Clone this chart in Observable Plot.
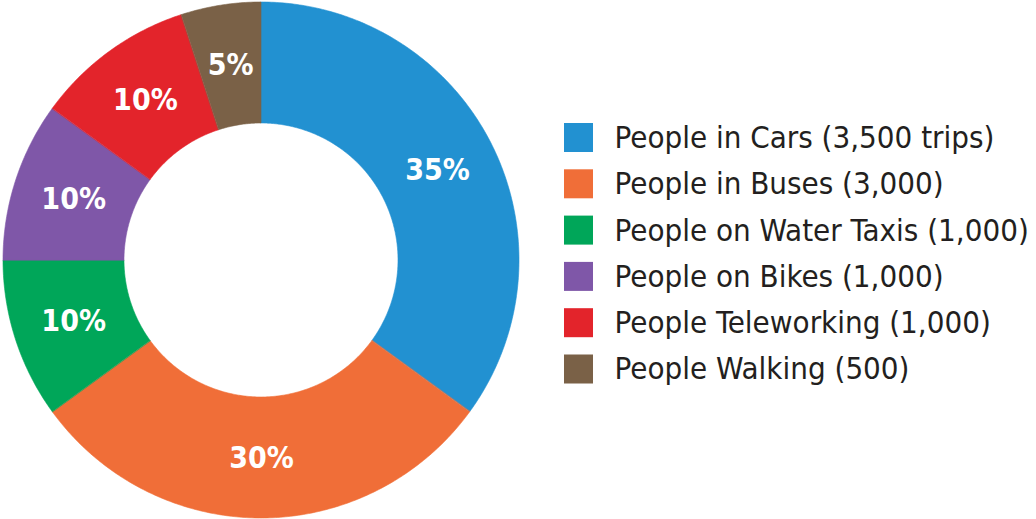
<!DOCTYPE html>
<html>
<head>
<meta charset="utf-8">
<script src="https://cdn.jsdelivr.net/npm/d3@7"></script>
<script src="https://cdn.jsdelivr.net/npm/@observablehq/plot@0.6"></script>
<style>
  html, body { margin: 0; padding: 0; background: #fff; }
  #chart svg { display: block; }
</style>
</head>
<body>
<div id="chart"></div>
<script>
// ---- Data ----
const categories = ["Cars", "Buses", "Water Taxis", "Bikes", "Teleworking", "Walking"];
const trips = [3500, 3000, 1000, 1000, 1000, 500];
const legendLabels = [
  "People in Cars (3,500 trips)",
  "People in Buses (3,000)",
  "People on Water Taxis (1,000)",
  "People on Bikes (1,000)",
  "People Teleworking (1,000)",
  "People Walking (500)"
];
const colors = ["#2291d1", "#f06e38", "#00a659", "#7f57a8", "#e3242b", "#7a6147"];

// ---- Layout ----
const W = 1036, H = 519;
const cx = 261, cy = 260, R = 258, r0 = 137;
const font = "'DejaVu Sans Condensed', 'DejaVu Sans', sans-serif";

const total = d3.sum(trips);
const rows = categories.map((c, i) => ({cat: c, value: trips[i], label: legendLabels[i], i}));
const arcs = d3.pie().sort(null).value(d => d.value)(rows);

// ring polygons: outer edge (x1,y1) / inner edge (x2,y2)
const ring = [];
for (const a of arcs) {
  const n = Math.max(8, Math.ceil((a.endAngle - a.startAngle) / 0.01));
  for (let k = 0; k <= n; k++) {
    const t = a.startAngle + (a.endAngle - a.startAngle) * k / n;
    ring.push({
      cat: a.data.cat,
      x1: cx + R * Math.sin(t), y1: cy - R * Math.cos(t),
      x2: cx + r0 * Math.sin(t), y2: cy - r0 * Math.cos(t)
    });
  }
}
const rm = (R + r0) / 2;
const labels = arcs.map(a => {
  const t = (a.startAngle + a.endAngle) / 2;
  return {cat: a.data.cat, text: d3.format(".0%")(a.data.value / total),
          x: cx + rm * Math.sin(t), y: cy - rm * Math.cos(t)};
});

// legend
const lx = 564, ly0 = 137.5, lstep = 46.3, sw = 29;
const legend = rows.map(d => ({cat: d.cat, label: d.label,
  x1: lx, x2: lx + sw, y1: ly0 + d.i * lstep - sw / 2, y2: ly0 + d.i * lstep + sw / 2,
  tx: lx + 50, ty: ly0 + d.i * lstep}));

const chart = Plot.plot({
  width: W, height: H,
  margin: 0,
  x: {domain: [0, W], range: [0, W], axis: null},
  y: {domain: [0, H], range: [0, H], axis: null},
  color: {domain: categories, range: colors},
  style: {fontFamily: font, background: "#fff"},
  marks: [
    Plot.area(ring, {x1: "x1", y1: "y1", x2: "x2", y2: "y2", z: "cat", fill: "cat", stroke: "cat", strokeWidth: 0.6}),
    Plot.text(labels, {x: "x", y: "y", text: "text", fill: "white", fontSize: 30, fontWeight: "bold"}),
    Plot.rect(legend, {x1: "x1", x2: "x2", y1: "y1", y2: "y2", fill: "cat"}),
    Plot.text(legend, {x: "tx", y: "ty", text: "label", textAnchor: "start", fill: "#231f20", fontSize: 31})
  ]
});
document.getElementById("chart").appendChild(chart);
</script>
</body>
</html>
